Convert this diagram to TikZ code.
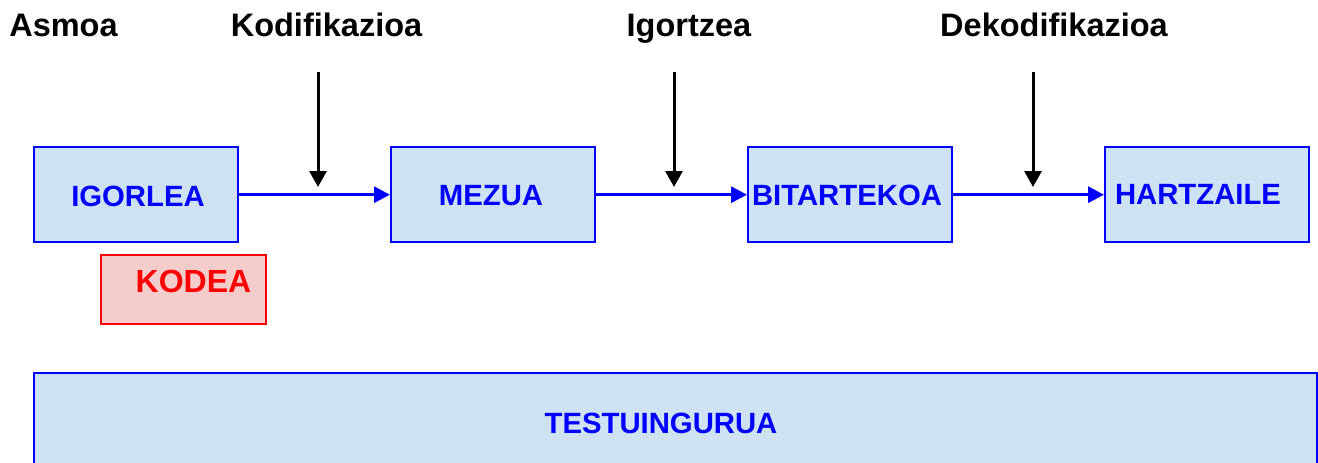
\documentclass[tikz,border=0pt]{standalone}
\usepackage{fontspec}
\setmainfont{Liberation Sans}
\usetikzlibrary{arrows.meta}
\definecolor{boxblue}{RGB}{207,226,243}
\definecolor{boxpink}{RGB}{244,204,204}
\begin{document}
\begin{tikzpicture}[x=1pt,y=-1pt,
  bluebox/.style={draw=blue,fill=boxblue,line width=2.4pt,minimum width=204pt,minimum height=95pt,inner sep=0pt,anchor=north west},
  redbox/.style={draw=red,fill=boxpink,line width=2pt,minimum width=165pt,minimum height=69pt,inner sep=0pt,anchor=north west},
  boxtxt/.style={font=\fontsize{29.3}{31}\selectfont\bfseries,text=blue,anchor=base,inner sep=0pt},
  toptxt/.style={font=\fontsize{32.5}{34}\selectfont\bfseries,text=black,anchor=base,inner sep=0pt},
  flow/.style={draw=blue,line width=3pt,-{Triangle[length=16pt,width=16pt]}},
  down/.style={draw=black,line width=3pt,-{Triangle[length=16pt,width=17pt]}}]
\useasboundingbox (0,0) rectangle (1318,463);
% boxes
\node[bluebox] (igorlea) at (33,146) {};
\node[bluebox] (mezua) at (390,146) {};
\node[bluebox] (bitartekoa) at (747,146) {};
\node[bluebox] (hartzaile) at (1104,146) {};
\node[redbox] (kodea) at (100,254) {};
\node[bluebox,minimum width=1283pt,minimum height=120pt] (testuingurua) at (33,372) {};
% box texts
\node[boxtxt] (tigorlea) at (138,206) {IGORLEA};
\node[boxtxt] (tmezua) at (491,205) {MEZUA};
\node[boxtxt] (tbitartekoa) at (847,205) {BITARTEKOA};
\node[boxtxt] (thartzaile) at (1198,204) {HARTZAILE};
\node[boxtxt,text=red,font=\fontsize{32}{34}\selectfont\bfseries] (tkodea) at (193.5,292) {KODEA};
\node[boxtxt] (ttestuingurua) at (661,433) {TESTUINGURUA};
% top labels
\node[toptxt] (asmoa) at (63.5,36) {Asmoa};
\node[toptxt] (kodif) at (326.5,36) {Kodifikazioa};
\node[toptxt] (igortzea) at (689,36) {Igortzea};
\node[toptxt] (dekodif) at (1054,36) {Dekodifikazioa};
% flow arrows
\draw[flow] (igorlea.east) -- (mezua.west);
\draw[flow] (mezua.east) -- (bitartekoa.west);
\draw[flow] (bitartekoa.east) -- (hartzaile.west);
% vertical arrows
\coordinate (k1) at (318,72); \coordinate (k2) at (318,187);
\coordinate (i1) at (674,72); \coordinate (i2) at (674,187);
\coordinate (d1) at (1033,72); \coordinate (d2) at (1033,187);
\draw[down] (k1) -- (k2);
\draw[down] (i1) -- (i2);
\draw[down] (d1) -- (d2);
\end{tikzpicture}
\end{document}
